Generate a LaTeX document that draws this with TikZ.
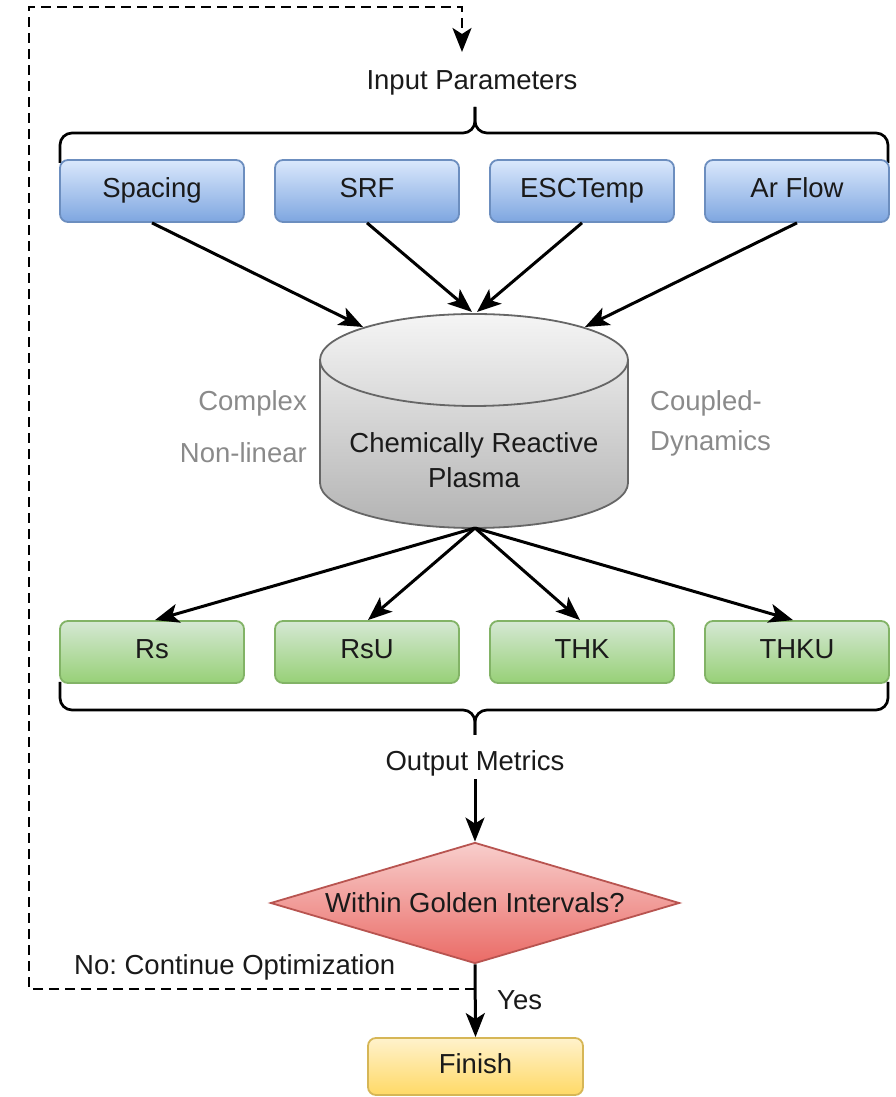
\documentclass[tikz,border=0pt]{standalone}
\usepackage{fontspec}
\setmainfont{Liberation Sans}
\usetikzlibrary{shapes.geometric,arrows.meta}
\definecolor{txt}{HTML}{1A1A1A}
\definecolor{graytxt}{HTML}{8A8A8A}
\definecolor{bluetop}{HTML}{DAE8FC}
\definecolor{bluebot}{HTML}{7EA6E0}
\definecolor{blueborder}{HTML}{6C8EBF}
\definecolor{greentop}{HTML}{D5E8D4}
\definecolor{greenbot}{HTML}{97D077}
\definecolor{greenborder}{HTML}{82B366}
\definecolor{redtop}{HTML}{F8CECC}
\definecolor{redbot}{HTML}{EA6B66}
\definecolor{redborder}{HTML}{B85450}
\definecolor{yeltop}{HTML}{FFF2CC}
\definecolor{yelbot}{HTML}{FFD966}
\definecolor{yelborder}{HTML}{D6B656}
\definecolor{cyltop}{HTML}{F5F5F5}
\definecolor{cylbot}{HTML}{B3B3B3}
\definecolor{cylborder}{HTML}{666666}
\frenchspacing
\begin{document}
\begin{tikzpicture}[x=1pt,y=1pt,
  every node/.style={font=\fontsize{27.5}{33}\selectfont, text=txt},
  box/.style={rectangle, rounded corners=8pt, minimum width=184pt, minimum height=62pt, line width=1.8pt, inner sep=0pt, text height=20pt, text depth=6pt},
  inbox/.style={box, draw=blueborder, top color=bluetop, bottom color=bluebot},
  outbox/.style={box, draw=greenborder, top color=greentop, bottom color=greenbot},
  finbox/.style={box, minimum width=215pt, minimum height=57pt, draw=yelborder, top color=yeltop, bottom color=yelbot},
  dia/.style={shape=diamond, aspect=3.38, minimum width=409pt, minimum height=121pt, inner sep=0pt, line width=1.8pt, draw=redborder, top color=redtop, bottom color=redbot},
  lbl/.style={inner sep=0pt},
  glbl/.style={inner sep=0pt, text=graytxt},
  arr/.style={line width=3pt, -{Stealth[length=24pt,width=19pt,inset=6pt]}},
  loopline/.style={line width=2.8pt, dash pattern=on 10pt off 6pt, -{Stealth[length=24pt,width=19pt,inset=6pt]}},
  bracket/.style={line width=2.7pt, rounded corners=12pt}]
\useasboundingbox (0,0) rectangle (896,1097);

% input parameters
\node[lbl] (inp) at (472,1014) {Input Parameters};
\draw[bracket] (60,934) -- (60,964) -- (475,964) -- (475,990);
\draw[bracket] (888,934) -- (888,964) -- (475,964) -- (475,990);

\node[inbox] (b1) at (152,906) {Spacing};
\node[inbox] (b2) at (367,906) {SRF};
\node[inbox] (b3) at (582,906) {ESCTemp};
\node[inbox] (b4) at (797,906) {Ar Flow};

% cylinder
\shade[top color=cyltop, bottom color=cylbot]
  (320,737) -- (320,614) arc[start angle=180, end angle=360, x radius=154pt, y radius=45pt]
  -- (628,737) arc[start angle=0, end angle=180, x radius=154pt, y radius=46pt] -- cycle;
\draw[cylborder, line width=1.8pt]
  (320,737) -- (320,614) arc[start angle=180, end angle=360, x radius=154pt, y radius=45pt]
  -- (628,737);
\draw[cylborder, line width=1.8pt] (474,737) ellipse[x radius=154pt, y radius=46pt];
\node[lbl, align=center, font=\fontsize{27.5}{35}\selectfont] (cyl) at (474,637) {Chemically Reactive\\Plasma};
\coordinate (t1) at (363,770);
\coordinate (t2) at (472,785);
\coordinate (t3) at (477,785);
\coordinate (t4) at (585,770);
\coordinate (cb) at (475,569);

\node[glbl, anchor=east] (cx) at (307,694) {Complex};
\node[glbl, anchor=east] (nl) at (307,644) {Non-linear};
\node[glbl, anchor=west, align=left, font=\fontsize{27.5}{40}\selectfont] (cd) at (650,674) {Coupled-\\Dynamics};

\draw[arr] (b1.south) -- (t1);
\draw[arr] (b2.south) -- (t2);
\draw[arr] (b3.south) -- (t3);
\draw[arr] (b4.south) -- (t4);

% outputs
\node[outbox] (g1) at (152,445) {Rs};
\node[outbox] (g2) at (367,445) {RsU};
\node[outbox] (g3) at (582,445) {THK};
\node[outbox] (g4) at (797,445) {THKU};

\draw[arr] (cb) -- ([xshift=3pt]g1.north);
\draw[arr] (cb) -- ([xshift=1pt]g2.north);
\draw[arr] (cb) -- ([xshift=-2pt]g3.north);
\draw[arr] (cb) -- ([xshift=-4pt]g4.north);

\draw[bracket] (60,415) -- (60,387) -- (475,387) -- (475,362);
\draw[bracket] (888,415) -- (888,387) -- (475,387) -- (475,362);
\node[lbl] (om) at (475,334) {Output Metrics};

% decision
\node[dia] (d) at (475,194) {Within Golden Intervals?};
\draw[arr] ([yshift=-3pt]om.south) -- (d.north);

\node[finbox] (fin) at (475.5,30.5) {Finish};
\draw[arr] (d.south) -- (fin.north);
\node[lbl, anchor=west] (yes) at (497,97) {Yes};

% loop back
\coordinate (ls) at (475,108);
\coordinate (lt) at (462,1045);
\draw[loopline] (ls) -- (29,108) -- (29,1090) -- (462,1090) -- (lt);
\node[lbl, anchor=west] (no) at (74,130) {No: Continue Optimization};
\end{tikzpicture}
\end{document}
